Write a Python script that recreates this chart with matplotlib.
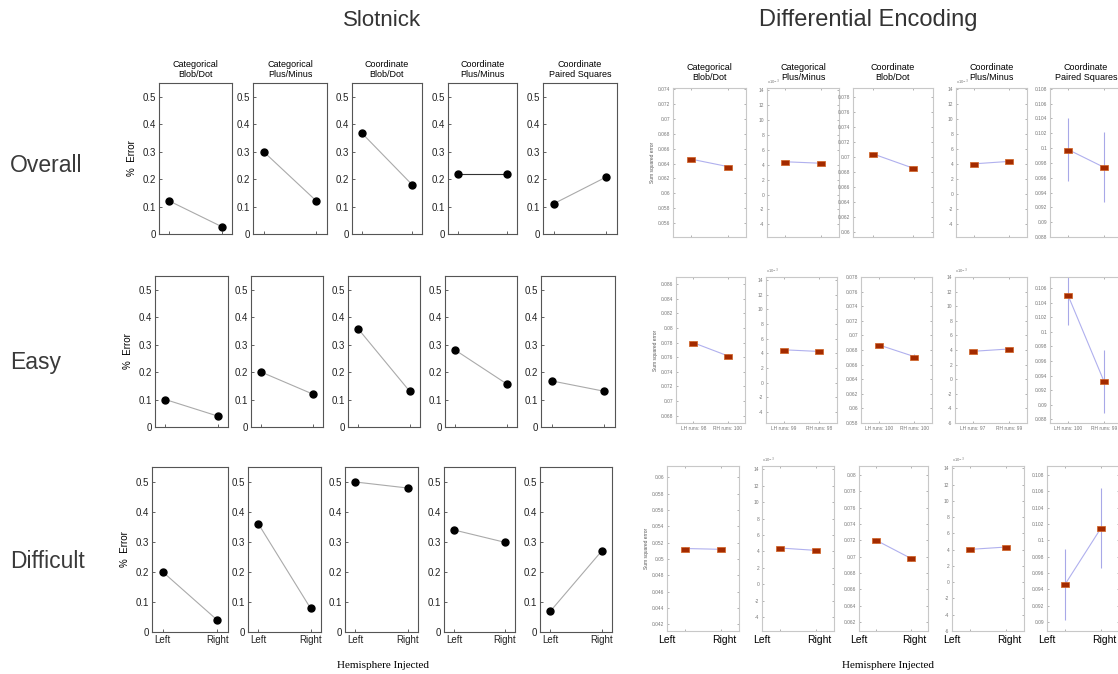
import matplotlib.pyplot as plt
from matplotlib.ticker import MultipleLocator, FuncFormatter

# ---- data ----
panel_titles = ["Categorical\nBlob/Dot", "Categorical\nPlus/Minus", "Coordinate\nBlob/Dot",
                "Coordinate\nPlus/Minus", "Coordinate\nPaired Squares"]
row_names = ["Overall", "Easy", "Difficult"]
hemis = ["Left", "Right"]

# Slotnick: % error, [left, right] per panel
slot_overall = [[0.12, 0.027], [0.30, 0.12], [0.367, 0.18], [0.218, 0.218], [0.11, 0.208]]
slot_easy = [[0.10, 0.04], [0.20, 0.12], [0.357, 0.13], [0.28, 0.157], [0.168, 0.13]]
slot_difficult = [[0.20, 0.04], [0.36, 0.079], [0.50, 0.48], [0.34, 0.299], [0.069, 0.27]]

# Differential encoding: sum squared error (Plus/Minus panels in units of 1e-3)
de_overall = [[0.0646, 0.0636], [4.4, 4.2], [0.0704, 0.0685], [3.97, 4.30], [0.0998, 0.0974]]
de_overall_err = [[0.0002, 0.0002], [0.12, 0.12], [0.0003, 0.0003], [0.12, 0.12], [0.0042, 0.0047]]
de_easy = [[0.0780, 0.0762], [4.48, 4.25], [0.0687, 0.0671], [3.82, 4.14], [0.1050, 0.0932]]
de_easy_err = [[0.0002, 0.0002], [0.12, 0.12], [0.0003, 0.0003], [0.12, 0.12], [0.0041, 0.0043]]
de_difficult = [[0.0513, 0.0512], [4.41, 4.12], [0.0720, 0.0698], [4.04, 4.33], [0.0946, 0.1015]]
de_difficult_err = [[0.0002, 0.0002], [0.12, 0.12], [0.0003, 0.0003], [0.12, 0.12], [0.0043, 0.0049]]
de_runs_easy = [["98", "100"], ["99", "98"], ["100", "100"], ["97", "99"], ["100", "99"]]

slot_rows = [slot_overall, slot_easy, slot_difficult]
de_rows = [de_overall, de_easy, de_difficult]
de_err_rows = [de_overall_err, de_easy_err, de_difficult_err]

de_ylims = [
    [(0.0541, 0.0742), (-5.7, 14.3), (0.0593, 0.0792), (-5.8, 14.1), (0.0880, 0.1081)],
    [(0.0670, 0.0870), (-5.5, 14.4), (0.0580, 0.0780), (-6.0, 14.0), (0.0875, 0.1075)],
    [(0.0412, 0.0614), (-5.7, 14.4), (0.0609, 0.0811), (-6.0, 14.3), (0.0889, 0.1091)],
]

# ---- layout in pixels ----
W, H = 1118, 674
L_rows_y = [(83, 234), (276, 427), (467, 632)]
L_cols_x = [[(159, 232), (253, 327), (352, 422), (448, 517), (543, 617)],
            [(155, 228), (251, 323), (348, 420), (445, 517), (541, 615)],
            [(152, 228), (248, 321), (345, 418), (444, 515), (540, 612)]]
R_rows_y = [(88, 237), (277, 423), (466, 631)]
R_cols_x = [[(673, 746), (767, 839), (853, 933), (956, 1027), (1050, 1122)],
            [(676, 745), (766, 837), (861, 932), (955, 1027), (1050, 1122)],
            [(667, 739), (762, 834), (859, 928), (952, 1024), (1047, 1119)]]

plt.rcParams['font.family'] = ['Liberation Sans', 'DejaVu Sans']
fig = plt.figure(figsize=(W / 100, H / 100), dpi=100)


def px_axes(x0, x1, top, bottom):
    return fig.add_axes([x0 / W, 1 - bottom / H, (x1 - x0) / W, (bottom - top) / H])


def fy(y):
    return 1 - y / H


fmt_g = FuncFormatter(lambda v, p: "%g" % round(v, 6))

# ---- Slotnick panels ----
for r in range(3):
    top, bottom = L_rows_y[r]
    for c in range(5):
        x0, x1 = L_cols_x[r][c]
        ax = px_axes(x0, x1, top, bottom)
        vals = slot_rows[r][c]
        lc = '#333333' if vals[0] == vals[1] else '#aaaaaa'
        ax.plot([1, 2], vals, color=lc, lw=0.8, zorder=1)
        ax.plot([1, 2], vals, 'o', color='black', ms=5, zorder=2)
        ax.set_xlim(0.8, 2.2)
        ax.set_ylim(0, 0.55)
        ax.set_yticks([0, 0.1, 0.2, 0.3, 0.4, 0.5])
        ax.yaxis.set_major_formatter(fmt_g)
        ax.set_xticks([1, 2])
        if r == 2:
            ax.set_xticklabels(hemis)
        else:
            ax.set_xticklabels([])
        ax.tick_params(labelsize=7, length=2, width=0.5, direction='in', pad=2, colors='#222222')
        for s in ax.spines.values():
            s.set_color('#555555')
            s.set_linewidth(0.8)
        if r == 0:
            ax.set_title(panel_titles[c], fontsize=6.5, pad=4, linespacing=1.15)
        if c == 0:
            ax.set_ylabel("%  Error", fontsize=7, labelpad=4)

# ---- Differential encoding panels ----
marker_rect = [(-1, -0.6), (1, -0.6), (1, 0.6), (-1, 0.6), (-1, -0.6)]
for r in range(3):
    top, bottom = R_rows_y[r]
    for c in range(5):
        x0, x1 = R_cols_x[r][c]
        ax = px_axes(x0, x1, top, bottom)
        vals = de_rows[r][c]
        errs = de_err_rows[r][c]
        ax.plot([1, 2], vals, color='#b0b0ee', lw=0.8, zorder=1)
        ax.errorbar([1, 2], vals, yerr=errs, fmt='none', ecolor='#a8a8e8', elinewidth=0.8,
                    capsize=0, zorder=2)
        ax.plot([1, 2], vals, linestyle='none', marker=marker_rect, ms=6,
                mfc='#a32a00', mec='#d06020', mew=0.5, zorder=3)
        ax.set_xlim(0.5, 2.5)
        ax.set_ylim(*de_ylims[r][c])
        ax.yaxis.set_major_locator(MultipleLocator(2 if c in (1, 3) else 0.002))
        ax.yaxis.set_major_formatter(fmt_g)
        ax.set_xticks([1, 2])
        if r == 1:
            ax.set_xticklabels(["LH runs: " + de_runs_easy[c][0], "RH runs: " + de_runs_easy[c][1]])
        else:
            ax.set_xticklabels([])
        ax.tick_params(labelsize=3.5, length=1.5, width=0.4, direction='in', pad=2,
                       colors='#777777', top=True, right=True)
        for s in ax.spines.values():
            s.set_color('#c8c8c8')
            s.set_linewidth(0.8)
        if c in (1, 3):
            ax.text(0.0, 1.005, r"x10$^{-3}$", transform=ax.transAxes, fontsize=3,
                    color='#777777', va='bottom', ha='left')
        if r == 0:
            ax.set_title(panel_titles[c], fontsize=6.5, pad=6, linespacing=1.15)
        if c == 0:
            ax.set_ylabel("Sum squared error", fontsize=3.5, labelpad=2, color='#555555')
        if r == 2:
            ax.text(0.0, -0.025, hemis[0], transform=ax.transAxes, fontsize=7.5,
                    ha='center', va='top')
            ax.text(0.8, -0.025, hemis[1], transform=ax.transAxes, fontsize=7.5,
                    ha='center', va='top')

# ---- headings and labels ----
fig.text(382 / W, fy(20), "Slotnick", fontsize=16, ha='center', va='center', color='#333333')
fig.text(868 / W, fy(20), "Differential Encoding", fontsize=17, ha='center', va='center',
         color='#333333')
row_y = [165, 362, 562]
for name, y in zip(row_names, row_y):
    fig.text(10 / W, fy(y), name, fontsize=16.5, ha='left', va='center', color='#3a3a3a')
fig.text(383 / W, fy(665), "Hemisphere Injected", fontsize=8, ha='center', va='center',
         family='Liberation Serif')
fig.text(888 / W, fy(665), "Hemisphere Injected", fontsize=8, ha='center', va='center',
         family='Liberation Serif')

fig.savefig("out.png", dpi=100)
